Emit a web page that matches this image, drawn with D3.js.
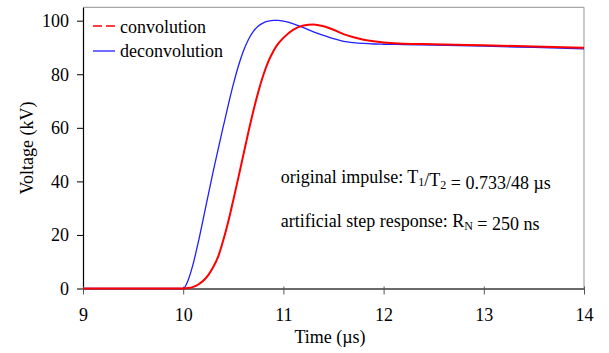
<!DOCTYPE html>
<html>
<head>
<meta charset="utf-8">
<script src="https://cdn.jsdelivr.net/npm/d3@7/dist/d3.min.js"></script>
<style>
  html, body { margin: 0; padding: 0; background: #fff; }
  svg { display: block; }
</style>
</head>
<body>
<svg id="chart" width="609" height="353"></svg>
<script>
// Sample times (µs) shared by both waveforms
const timeUs = [9, 10, 10.05, 10.1, 10.15, 10.2, 10.25, 10.3, 10.35, 10.4, 10.45, 10.5,
  10.55, 10.6, 10.65, 10.7, 10.75, 10.8, 10.85, 10.9, 10.95, 11.0, 11.1, 11.2, 11.3,
  11.4, 11.5, 11.6, 11.7, 11.8, 11.9, 12.0, 12.2, 12.5, 13.0, 13.5, 14.0];

// Voltage (kV) obtained by convolution
const convolutionKV = [0, 0, 0.15, 0.6, 1.5, 2.9, 5.0, 8.0, 12.0, 18.0, 25.0, 33.0,
  41.3, 49.8, 58.3, 66.3, 73.5, 79.7, 84.8, 88.6, 91.5, 93.6, 96.7, 98.2, 98.6,
  97.9, 96.6, 95.0, 93.8, 92.9, 92.3, 91.9, 91.4, 91.2, 90.8, 90.4, 89.9];

// Voltage (kV) obtained by deconvolution
const deconvolutionKV = [0, 0, 3.2, 9.3, 17.2, 26.0, 35.0, 43.8, 52.2, 60.5, 68.6, 76.2,
  83.0, 88.6, 92.9, 96.0, 98.0, 99.2, 99.8, 100.1, 100.1, 99.8, 98.8, 97.4, 95.8,
  94.5, 93.3, 92.3, 91.8, 91.5, 91.3, 91.2, 91.1, 90.9, 90.5, 90.0, 89.5];

const xTicks = [9, 10, 11, 12, 13, 14];
const yTicks = [0, 20, 40, 60, 80, 100];
const seriesNames = ["convolution", "deconvolution"];

const svg = d3.select("#chart");
const plotL = 83, plotR = 584, plotT = 7.3, plotB = 288.5;
const FS = "18px";
const SERIF = "Liberation Serif";

const x = d3.scaleLinear().domain([9, 14]).range([plotL, plotR]);
const y = d3.scaleLinear().domain([0, 105]).range([plotB, plotT]);

// every label uses the same serif face
const label = sel => sel.style("font-family", SERIF).style("font-size", FS).style("fill", "#000");

// frame: light grey top and right edges
svg.append("line").attr("x1", plotL).attr("x2", plotR).attr("y1", plotT).attr("y2", plotT)
  .attr("stroke", "#a6a6a6").attr("stroke-width", 1.2);
svg.append("line").attr("x1", plotR).attr("x2", plotR).attr("y1", plotT).attr("y2", plotB)
  .attr("stroke", "#a6a6a6").attr("stroke-width", 1.2);

// y axis (black)
const yAxis = svg.append("g").attr("transform", `translate(${plotL},0)`)
  .call(d3.axisLeft(y).tickValues(yTicks).tickFormat(d3.format("d"))
    .tickSizeInner(6).tickSizeOuter(0).tickPadding(8));
yAxis.select(".domain").attr("stroke", "#000").attr("stroke-width", 1.2);
yAxis.selectAll(".tick line").attr("stroke", "#000");
yAxis.selectAll("text").call(label);

// x axis (grey)
const xAxis = svg.append("g").attr("transform", `translate(0,${plotB})`)
  .call(d3.axisBottom(x).tickValues(xTicks).tickFormat(d3.format("d"))
    .tickSizeInner(6).tickSizeOuter(0).tickPadding(13.4));
xAxis.select(".domain").attr("stroke", "#6b6b6b").attr("stroke-width", 2);
xAxis.selectAll(".tick line").attr("stroke", "#555").attr("y1", -2);
xAxis.selectAll("text").call(label);

// waveforms
const line = d => d3.line().x(t => x(t)).y((t, i) => y(d[i])).curve(d3.curveMonotoneX)(timeUs);

svg.append("path").attr("d", line(deconvolutionKV))
  .attr("fill", "none").attr("stroke", "#1f1fff").attr("stroke-width", 1.3);
svg.append("path").attr("d", line(convolutionKV))
  .attr("fill", "none").attr("stroke", "#ff0000").attr("stroke-width", 2);

// legend
svg.append("line").attr("x1", 93).attr("x2", 115).attr("y1", 26).attr("y2", 26)
  .attr("stroke", "#ff0000").attr("stroke-width", 1.4).attr("stroke-dasharray", "9,4");
svg.append("text").attr("x", 120).attr("y", 33.3).call(label).text(seriesNames[0]);
svg.append("line").attr("x1", 93).attr("x2", 115).attr("y1", 51).attr("y2", 51)
  .attr("stroke", "#1f1fff").attr("stroke-width", 1.3);
svg.append("text").attr("x", 120).attr("y", 57.3).call(label).text(seriesNames[1]);

// annotation lines with subscripts
function richText(xPos, yPos, parts) {
  const t = svg.append("text").attr("x", xPos).attr("y", yPos).call(label);
  parts.forEach(p => {
    if (p.sub) {
      t.append("tspan").attr("dy", 3).style("font-size", "12px").text(p.sub);
      t.append("tspan").attr("dy", -3).text("");
    } else {
      t.append("tspan").text(p.txt);
    }
  });
}
richText(280.7, 183.3, [{txt: "original impulse: T"}, {sub: "1"}, {txt: "/T"}, {sub: "2"}, {txt: " = 0.733/48 µs"}]);
richText(280.7, 227.3, [{txt: "artificial step response: R"}, {sub: "N"}, {txt: " = 250 ns"}]);

// axis titles
svg.append("text").attr("x", 330).attr("y", 343.3).attr("text-anchor", "middle").call(label).text("Time (µs)");
svg.append("text").attr("transform", "translate(32.5,148) rotate(-90)").attr("text-anchor", "middle")
  .call(label).text("Voltage (kV)");
</script>
</body>
</html>
